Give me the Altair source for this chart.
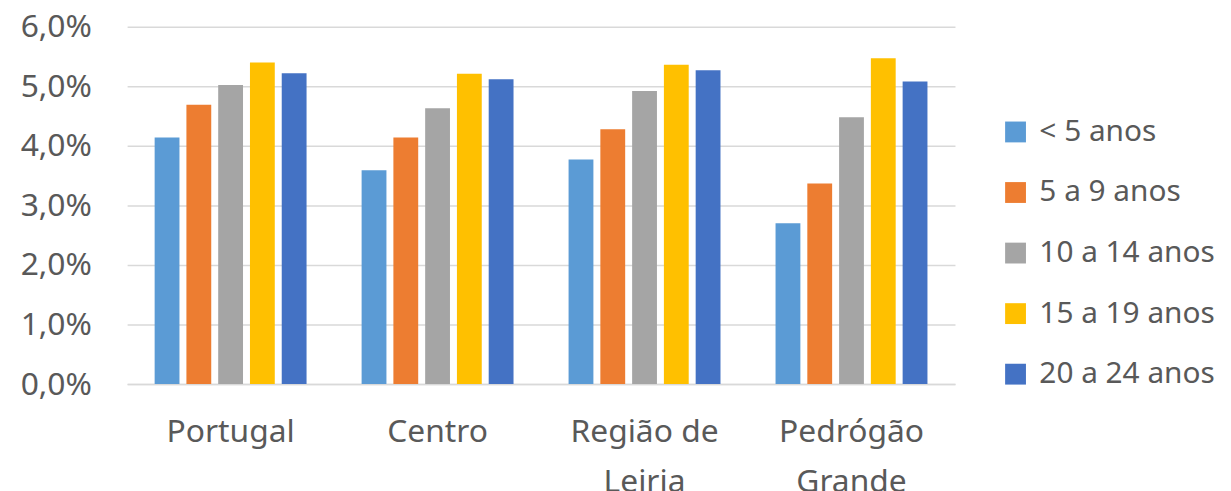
import altair as alt
import pandas as pd

categories = ["Portugal", "Centro", "Região de Leiria", "Pedrógão Grande"]
groups = ["< 5 anos", "5 a 9 anos", "10 a 14 anos", "15 a 19 anos", "20 a 24 anos"]
colors = ["#5B9BD5", "#ED7D31", "#A5A5A5", "#FFC000", "#4472C4"]

v_lt5 = [0.0414, 0.0359, 0.0377, 0.0270]
v_5_9 = [0.0469, 0.0414, 0.0428, 0.0337]
v_10_14 = [0.0502, 0.0463, 0.0492, 0.0448]
v_15_19 = [0.0540, 0.0521, 0.0536, 0.0547]
v_20_24 = [0.0522, 0.0512, 0.0527, 0.0508]
series = [v_lt5, v_5_9, v_10_14, v_15_19, v_20_24]

rows = []
for g, vals in zip(groups, series):
    for c, v in zip(categories, vals):
        rows.append({"categoria": c, "grupo": g, "valor": v})
df = pd.DataFrame(rows)

FONT = "Noto Sans"
TXT = "#595959"

label_expr = ("datum.label == 'Região de Leiria' ? ['Região de', 'Leiria'] : "
              "datum.label == 'Pedrógão Grande' ? ['Pedrógão', 'Grande'] : datum.label")

chart = alt.Chart(df).mark_bar().encode(
    x=alt.X("categoria:N", sort=categories, title=None,
            scale=alt.Scale(paddingInner=0.266, paddingOuter=0.133),
            axis=alt.Axis(labelAngle=0, ticks=False, domain=True, domainColor="#d9d9d9",
                          domainWidth=1.5, labelFont=FONT, labelFontSize=32, labelColor=TXT,
                          labelBaseline="top", labelPadding=33, labelLineHeight=50,
                          labelExpr=label_expr)),
    xOffset=alt.XOffset("grupo:N", sort=groups,
                        scale=alt.Scale(paddingInner=0.21875, paddingOuter=0)),
    y=alt.Y("valor:Q", title=None,
            scale=alt.Scale(domain=[0, 0.06], nice=False),
            axis=alt.Axis(values=[0, 0.01, 0.02, 0.03, 0.04, 0.05, 0.06],
                          labelExpr="replace(format(datum.value, '.1%'), '.', ',')",
                          ticks=False, domain=False, gridColor="#d9d9d9", gridWidth=1.5,
                          labelFont=FONT, labelFontSize=32, labelColor=TXT,
                          labelPadding=36)),
    color=alt.Color("grupo:N", sort=groups,
                    scale=alt.Scale(domain=groups, range=colors),
                    legend=alt.Legend(title=None, orient="none", legendX=880, legendY=91,
                                      symbolType="square", symbolSize=441,
                                      symbolStrokeWidth=0, labelLimit=400,
                                      labelFont=FONT, labelFontSize=30, labelColor=TXT,
                                      labelOffset=9, rowPadding=31, padding=0)),
).properties(
    width=834, height=360,
    background="white",
    autosize=alt.AutoSizeParams(type="none"),
    padding={"left": 120, "top": 17, "right": 270, "bottom": 130},
).configure_view(stroke=None)

chart.save("out.html", embed_options={"renderer": "svg", "actions": False})
